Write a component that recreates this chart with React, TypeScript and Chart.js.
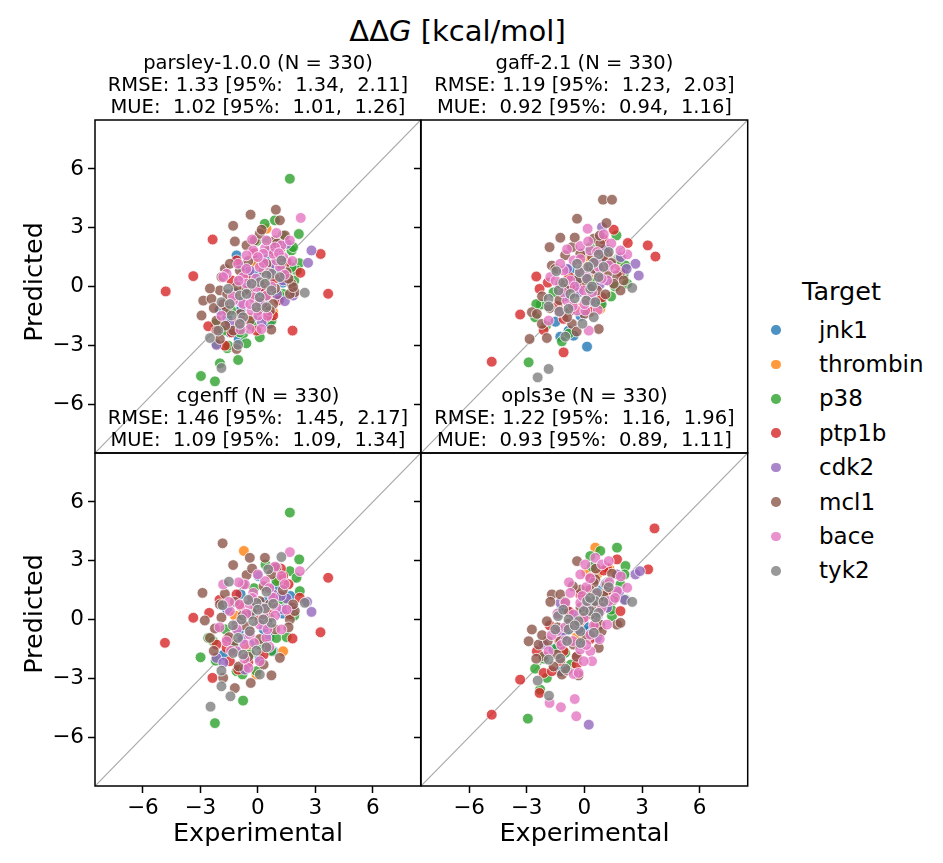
import { useEffect, useRef } from "react"
import { Chart, registerables } from "chart.js"

Chart.register(...registerables)
Chart.defaults.font.family = "DejaVu Sans"

const targets = ["jnk1", "thrombin", "p38", "ptp1b", "cdk2", "mcl1", "bace", "tyk2"]
const targetColors = ["31,119,180", "255,127,14", "44,160,44", "214,39,40", "148,103,189", "140,86,75", "227,119,194", "127,127,127"]
const tickValues = [-6, -3, 0, 3, 6]
const axisMin = -8.5
const axisMax = 8.5

type Pt = [number, number]

// parsley-1.0.0 : [experimental, predicted]
const parsleyJnk1: Pt[] = [[-1.11, 1.59], [-0.42, 0.65], [-1.46, -2.34], [0.71, 2.01], [-0.07, 1.33], [0.3, -0.8], [-0.9, -1.2], [0.6, 0.3], [-0.5, 0.2], [0.2, -0.3], [-1.2, -0.3], [0.9, 0.9], [-0.3, -1.6], [0.5, 1.4], [-1.6, -1.6], [1.3, 0.2], [-0.8, 1.0], [0.0, 0.6], [-2.0, -1.2], [0.6, -1.9], [1.6, 1.2], [-1.0, -2.7]]
const parsleyThrombin: Pt[] = [[0.45, 2.95], [0.8, -1.31], [-0.07, 1.16], [-1.11, -0.55], [0.3, 0.2], [0.9, 1.5], [-0.5, -1.6], [0.6, -0.4]]
const parsleyP38: Pt[] = [[1.67, 5.5], [0.36, 3.2], [0.89, 3.38], [2.14, 2.68], [-0.07, 2.32], [2.16, 1.19], [1.76, 1.84], [-1.6, -3.15], [-1.03, -3.75], [-1.98, -3.92], [-2.97, -4.57], [-2.24, -4.84], [-1.55, -3.02], [-0.77, -2.42], [1.32, -0.38], [1.15, -0.46], [2.02, 0.82], [0.71, -1.74], [-2.16, -2.93], [-0.94, -2.34], [1.84, 2.01], [-1.81, -2.25], [0.1, -2.59], [1.76, 0.99], [1.0, 1.2], [-1.4, -1.2], [0.5, 2.3], [1.9, 0.3], [-2.2, -1.9], [-0.3, -2.0], [1.3, 2.6], [-0.6, -2.9]]
const parsleyPtp1b: Pt[] = [[-2.36, 2.4], [-3.37, 0.53], [-4.81, -0.25], [3.67, -0.37], [3.28, 1.66], [2.22, 0.7], [1.81, -2.25], [-2.59, -2.03], [-2.16, -2.25], [-1.37, -2.34], [-1.11, 1.33], [0.89, 1.76], [1.5, 1.24], [-1.37, 0.31], [-0.07, -2.25], [0.8, -1.48], [-1.72, -3.02], [1.32, 0.48], [0.45, -1.57], [0.2, 0.0], [-0.6, 0.5], [0.9, 0.4], [-1.8, -0.9], [-1.0, -1.8], [0.4, -1.1], [1.1, -0.7], [-0.2, 1.7]]
const parsleyCdk2: Pt[] = [[2.8, 1.84], [2.62, 1.21], [1.41, -0.75], [-2.16, -2.98], [1.32, 0.31], [1.84, -0.46], [-0.42, 0.82], [1.5, 2.18], [-1.46, -1.91], [0.7, 1.1], [-0.9, -0.8], [1.0, -0.4], [0.2, -1.8]]
const parsleyMcl1: Pt[] = [[0.94, 3.92], [-0.38, 3.67], [-1.29, 3.1], [1.15, 3.38], [1.41, 2.61], [0.89, 2.35], [-0.59, 2.1], [-1.72, 0.9], [-1.9, 0.48], [-1.98, -0.2], [-2.85, -0.72], [-2.42, -0.63], [-2.94, -1.48], [-1.98, -2.68], [-1.11, -3.19], [1.76, 0.14], [1.93, -0.29], [1.67, -0.38], [-0.94, 0.82], [0.45, 1.16], [1.5, 0.73], [0.8, -0.89], [-0.42, -0.2], [-1.29, -2.25], [0.63, -1.23], [-0.42, -1.74], [-1.63, -1.23], [-0.16, 2.35], [0.1, 2.69], [1.84, -0.03], [-0.94, 0.31], [-1.46, 1.16], [1.15, 1.84], [-2.16, -1.74], [-0.2, -0.6], [0.3, 0.8], [-0.7, -0.2], [0.9, -0.1], [1.2, 1.1], [-1.1, 0.0], [-0.5, 1.3], [0.6, 1.9], [-1.6, -0.4], [0.0, -1.2], [1.0, 2.2], [-2.3, -1.1], [-1.7, -2.0], [0.4, -0.5], [1.6, 0.4], [-0.9, -1.4], [0.2, 2.9], [-1.2, 2.3], [0.7, -2.2], [-2.5, -0.1]]
const parsleyBace: Pt[] = [[2.24, 3.5], [0.97, 2.73], [1.23, 2.1], [1.67, 2.35], [0.37, 1.93], [-0.24, 1.84], [-0.59, 1.59], [-1.03, 1.16], [-1.63, 0.65], [-1.81, 0.48], [-0.77, 0.48], [-0.59, 0.14], [-0.07, -0.03], [0.45, -0.46], [1.15, 0.99], [0.97, 1.33], [0.8, 1.67], [1.32, 1.5], [0.1, 0.99], [-0.24, -0.55], [-0.77, -0.89], [-0.33, -1.23], [0.02, -1.48], [0.19, -2.17], [-0.42, -2.17], [-0.85, -1.74], [-1.29, -0.72], [0.28, 1.67], [0.45, 2.35], [0.6, 0.7], [-0.1, 0.4], [-0.4, -0.9], [0.3, 1.2], [-1.0, 0.3], [0.7, 0.0], [1.4, 0.6], [-0.6, 0.9], [0.9, 2.0], [-1.3, -0.5], [0.1, -0.8], [-0.3, 2.4], [1.8, 1.3], [-0.9, -2.2], [0.5, -1.5], [-1.9, -1.5], [0.0, 1.5], [1.1, 1.7]]
const parsleyTyk2: Pt[] = [[1.23, 1.33], [0.71, 0.65], [0.45, 0.56], [0.1, 0.22], [0.37, 0.14], [-0.33, 0.14], [-0.94, -0.46], [-1.55, -0.12], [-1.9, -0.8], [-1.46, -0.89], [-1.37, -1.48], [-0.77, -1.57], [-0.07, -1.06], [0.45, -1.06], [0.71, -0.2], [2.45, -0.32], [-2.5, -2.63], [-1.03, -2.98], [-1.9, -4.16], [1.15, 0.48], [-0.59, -0.38], [0.1, -0.55], [-2.07, -2.25], [-0.94, -1.91]]

// gaff-2.1
const gaffJnk1: Pt[] = [[0.14, -3.07], [-0.82, -2.25], [-1.25, -2.56], [-0.56, -2.51], [0.83, -0.89], [-0.3, 0.5], [0.4, -0.4], [-0.4, 0.1], [0.3, 0.6], [-1.0, -0.5], [0.8, 1.3], [-0.2, -1.5], [1.2, 0.3], [-1.5, -1.8], [0.0, 1.7], [-0.7, 0.9], [0.5, -0.8]]
const gaffThrombin: Pt[] = [[-0.12, 1.5], [0.83, -1.14], [0.31, 1.33], [1.7, 1.16], [0.6, 0.5], [-0.4, -1.1], [1.0, 0.9], [0.1, 1.0]]
const gaffP38: Pt[] = [[1.67, 2.61], [2.14, 1.07], [2.23, 0.14], [1.39, -0.51], [-2.26, -0.92], [-2.56, -1.57], [-2.9, -3.87], [-1.17, -2.8], [2.05, 0.65], [1.2, 1.9], [-1.6, -0.3], [0.9, -0.9], [-2.0, -2.0], [1.8, 1.4], [0.3, 2.0], [-0.8, -2.4], [1.6, 0.0], [-2.5, -0.9], [0.5, 0.2]]
const gaffPtp1b: Pt[] = [[1.53, 2.9], [2.26, 2.22], [3.3, 2.1], [3.7, 1.53], [-2.5, 0.51], [-2.33, -0.12], [-3.34, -1.43], [-2.12, -2.22], [-1.08, -3.36], [-4.82, -3.84], [1.88, 0.73], [0.92, -0.55], [-1.08, -1.65], [0.75, 1.84], [-0.73, -0.03], [0.0, 0.0], [-0.8, 0.5], [0.7, 0.7], [-1.4, -1.0], [1.2, 1.6], [0.3, -1.3], [-1.9, 0.2], [1.0, 2.4]]
const gaffCdk2: Pt[] = [[0.92, 3.03], [2.66, 1.16], [2.83, 0.56], [1.36, 1.16], [-0.9, 0.9], [0.66, 0.82], [1.1, 1.9], [1.9, 1.5], [0.3, 1.0], [-0.3, -0.3], [2.2, 0.9], [0.8, 0.1]]
const gaffMcl1: Pt[] = [[0.97, 4.43], [1.44, 4.43], [-0.38, 3.46], [-1.25, 2.49], [-1.81, 2.01], [1.15, 3.24], [0.49, 2.44], [0.83, 2.18], [-1.69, 1.07], [-1.51, 0.9], [1.7, 0.56], [1.88, -0.2], [1.53, 0.14], [-2.73, -1.31], [-2.47, -1.4], [-2.21, -1.91], [-0.64, -1.91], [0.75, -2.17], [-2.85, -2.68], [-1.95, -2.63], [-0.73, -1.23], [-0.21, 1.67], [0.14, 0.14], [-1.25, 0.14], [0.66, -0.2], [-0.64, 2.01], [1.18, 0.65], [2.05, 0.31], [-0.9, -1.57], [-0.3, 0.4], [0.5, 0.9], [-0.9, -0.1], [1.0, 1.5], [0.2, -0.6], [-1.3, -0.7], [0.8, 2.6], [-0.5, 2.5], [1.4, 1.2], [-1.8, -1.1], [0.0, -1.4], [-1.0, 1.6], [0.4, 1.5], [-2.2, -0.5], [1.1, -0.4], [-0.4, -2.3]]
const gaffBace: Pt[] = [[0.17, 2.95], [1.01, 2.66], [-0.21, 2.06], [0.31, 1.84], [-0.56, 1.33], [1.27, 1.07], [2.23, 1.64], [1.88, 1.84], [-1.08, 0.82], [-0.73, 0.31], [-0.21, 0.82], [0.83, 0.9], [-0.38, -1.23], [0.05, -1.23], [-1.86, -1.74], [0.23, -2.25], [0.31, -0.72], [0.75, 0.99], [-1.25, 1.16], [1.18, 0.31], [-0.03, -0.2], [0.66, 1.76], [-0.9, -0.72], [-1.77, 0.48], [0.1, 0.5], [-0.5, 0.0], [0.6, 1.3], [-0.2, 1.4], [0.9, 0.4], [-1.1, -0.3], [0.4, -0.3], [-0.6, -1.0], [1.4, 2.2], [-1.5, 0.3], [0.2, 2.3], [-0.9, 1.9], [1.6, 0.9], [-1.3, -1.3], [0.7, -1.2], [0.0, -0.9]]
const gaffTyk2: Pt[] = [[0.75, 1.64], [1.27, 1.76], [0.49, 1.21], [-0.24, 0.73], [-1.46, 0.78], [-1.34, -0.2], [-1.86, -0.63], [-1.86, -1.02], [-1.3, -1.28], [-0.82, -1.14], [0.1, -0.72], [0.57, -0.8], [0.31, -0.12], [0.75, 0.48], [2.49, -0.07], [0.49, -1.57], [-0.99, -2.56], [-1.86, -4.21], [-2.43, -4.64], [0.14, 0.39], [-0.73, -0.38], [-0.38, 1.16], [0.2, 1.0], [-0.5, -0.6], [1.0, 1.0], [-1.1, 0.2], [0.4, 0.0], [-0.1, -1.9]]

// cgenff
const cgenffJnk1: Pt[] = [[0.02, 2.22], [0.8, -1.62], [-0.59, 0.26], [0.3, -0.5], [-1.0, -1.5], [-0.3, 0.3], [0.4, 0.9], [-1.0, -0.6], [0.9, 1.7], [-0.4, -1.3], [1.3, 0.3], [-1.6, 0.5], [0.1, -2.0], [-0.9, 1.3], [0.6, -0.9], [-1.8, -1.8], [1.7, 1.2]]
const cgenffThrombin: Pt[] = [[-0.73, 3.5], [-0.07, -2.81], [1.32, -1.62], [0.5, 0.3], [-0.6, -1.4], [1.1, 2.0], [-1.2, 0.2]]
const cgenffP38: Pt[] = [[1.67, 5.46], [2.16, 3.07], [1.67, 2.47], [2.02, 2.13], [2.19, 1.45], [-2.99, -1.93], [-0.77, -4.14], [-2.24, -5.29], [-2.59, -0.94], [0.1, -1.28], [0.97, -0.94], [-0.42, -1.79], [-1.11, -2.64], [-0.07, -2.64], [-2.33, -1.11], [1.5, 0.77], [0.97, 1.96], [1.1, 1.0], [-1.7, -0.5], [0.7, -1.6], [-2.2, -2.1], [1.9, 0.2], [0.4, 2.8], [-0.8, -2.8], [1.5, -0.9], [-0.2, 1.6], [-1.3, -1.3]]
const cgenffPtp1b: Pt[] = [[3.67, 2.13], [-3.37, 0.09], [-2.54, 0.34], [-4.85, -1.19], [3.27, -0.65], [1.81, -0.97], [-2.37, -2.98], [2.19, 1.11], [-1.46, -2.13], [-1.03, -2.56], [-1.11, 1.28], [0.8, 2.64], [1.32, 2.22], [-2.16, -1.28], [1.67, 0.26], [-0.42, -0.6], [0.45, 1.62], [-1.63, -1.45], [0.1, 0.0], [-0.9, 0.7], [0.8, 1.1], [-1.6, -1.0], [1.2, 2.6], [0.3, -1.8], [-2.0, 1.0], [1.6, 1.8], [-0.5, -2.2], [0.6, 0.5]]
const cgenffCdk2: Pt[] = [[2.8, 0.39], [2.57, 0.9], [1.5, 1.07], [1.32, 0.51], [-2.16, -1.96], [-0.68, -2.56], [0.8, 1.28], [1.2, 1.2], [0.5, -0.2], [-0.8, -1.0], [1.8, 0.6], [-1.8, -2.2]]
const cgenffMcl1: Pt[] = [[-1.84, 3.89], [-0.42, 3.15], [0.37, 3.15], [-1.29, 2.78], [-0.59, 2.27], [-2.89, 1.36], [-1.72, 1.31], [-2.77, -0.05], [-2.24, -0.46], [-2.5, -0.94], [-1.2, -3.5], [-0.37, -3.24], [0.71, -2.85], [1.67, 0.0], [1.93, 0.43], [0.97, 2.64], [1.84, 0.77], [0.1, 0.94], [-1.98, 0.77], [0.45, -1.28], [-1.29, -1.28], [-0.42, 0.26], [1.15, -1.96], [-1.81, -2.98], [0.63, 0.77], [-0.77, 1.79], [-0.1, 0.6], [0.6, 0.1], [-0.7, -0.3], [0.3, 1.7], [-1.2, 0.9], [0.9, -0.5], [-0.5, -1.9], [1.3, 1.5], [-1.5, -0.9], [0.1, -1.0], [-1.9, 0.1], [0.7, 2.3], [-0.3, 2.6], [1.6, -0.4], [-1.0, -2.4], [0.3, -2.3], [-2.3, -1.6], [-0.8, 0.2]]
const cgenffBace: Pt[] = [[1.67, 3.44], [2.19, 2.47], [1.23, 2.22], [0.37, 1.96], [-0.68, 1.79], [-1.81, 1.79], [-0.24, 1.36], [-0.94, 0.77], [-1.46, 0.43], [0.1, -0.26], [1.23, -0.51], [-0.42, -0.77], [-1.63, -1.11], [-1.11, -1.62], [0.1, -2.13], [-0.49, -2.47], [-0.68, -1.28], [0.45, -0.94], [0.97, 0.6], [0.28, 0.26], [-1.11, -0.26], [0.8, 1.11], [-0.42, 0.77], [0.2, 0.6], [-0.6, 0.3], [0.6, 1.6], [-0.3, 1.1], [0.9, 0.2], [-1.1, -0.5], [0.5, -0.5], [-0.2, -1.2], [1.4, 1.8], [-1.5, 0.9], [0.0, 2.3], [-1.0, 1.9], [1.5, 0.5], [-1.4, -1.6], [0.6, -1.4], [-0.7, -2.0], [-2.0, -0.4], [0.9, 2.7]]
const cgenffTyk2: Pt[] = [[1.23, 3.19], [0.54, 2.56], [-1.51, 1.93], [0.45, 1.42], [-0.07, 0.85], [-1.84, 0.73], [0.37, 0.56], [-0.85, 0.0], [-0.24, -0.09], [0.71, -0.17], [0.28, 0.0], [-0.42, -0.6], [-1.03, -0.94], [-0.07, -1.59], [0.45, -1.42], [-1.29, -1.71], [-1.9, -2.61], [-1.9, -3.41], [-1.43, -3.92], [-2.47, -4.45], [0.1, -2.81], [2.45, 0.85], [-0.77, -1.79], [0.0, 0.5], [-0.5, 1.0], [0.8, 0.8], [-1.3, -0.3]]

// opls3e
const oplsJnk1: Pt[] = [[-0.9, 0.43], [0.66, -0.94], [-1.25, -2.64], [0.14, -0.6], [0.5, 0.9], [-0.5, 0.2], [0.2, 0.8], [-1.0, -0.6], [0.9, 1.5], [-0.3, -1.2], [1.2, 0.6], [-1.6, -1.5], [0.5, 2.3], [-1.2, 0.5], [0.0, -0.3]]
const oplsThrombin: Pt[] = [[0.57, 3.67], [0.1, 2.39], [0.66, 2.3], [-0.21, -0.09], [0.6, 0.6], [-0.4, -0.9], [1.0, 1.2], [0.2, 1.5], [1.3, 2.6]]
const oplsP38: Pt[] = [[1.7, 3.67], [0.83, 3.5], [0.31, 3.24], [2.14, 2.73], [2.09, 2.3], [2.14, 1.02], [1.44, 0.17], [-2.56, -2.51], [-2.3, -3.58], [-2.94, -5.06], [-1.95, -2.98], [1.1, 1.11], [-1.43, -1.45], [1.88, 1.79], [1.2, 1.9], [-1.5, -0.6], [0.7, -0.4], [-2.1, -2.0], [1.7, 1.3], [0.4, 2.7], [-0.7, -2.3], [1.4, 0.5], [-1.0, -1.7], [-0.1, 0.3]]
const oplsPtp1b: Pt[] = [[3.65, 4.65], [3.32, 2.56], [1.7, 3.07], [1.18, 2.64], [-4.82, -4.86], [-3.34, -3.07], [-2.33, -3.75], [-2.12, -2.73], [-2.47, -1.62], [-1.08, -1.62], [-0.38, -1.88], [1.88, 0.43], [-1.69, -2.64], [-1.25, -2.13], [0.31, 2.13], [-0.21, 1.28], [0.0, 0.1], [-0.8, 0.4], [0.8, 0.9], [-1.3, -1.1], [1.2, 1.5], [0.3, -1.0], [-1.8, -0.3], [1.0, 2.5], [-0.4, -2.3], [0.6, -0.3]]
const oplsCdk2: Pt[] = [[2.66, 2.3], [2.89, 2.47], [1.7, 2.3], [-1.25, 0.85], [-2.12, -1.28], [0.23, -5.37], [1.18, 0.6], [1.1, 1.8], [1.8, 1.4], [0.4, 0.9], [-0.3, -0.5], [2.1, 1.0], [0.7, 0.2], [-1.1, -0.9]]
const oplsMcl1: Pt[] = [[-1.69, 1.28], [-1.25, 1.28], [-1.77, 0.9], [-1.95, -0.09], [-2.73, -0.51], [-2.9, -1.11], [-2.38, -1.28], [-2.12, -1.88], [-1.17, -2.81], [-0.3, -2.85], [0.57, 2.05], [0.49, 1.88], [1.44, 2.34], [1.7, -0.26], [1.88, -0.17], [0.75, -1.45], [-0.38, 2.98], [-0.21, 1.53], [-1.25, -1.11], [-0.56, -1.28], [0.31, 0.26], [0.83, -0.26], [-1.43, -1.79], [1.18, 1.79], [-0.2, 0.6], [0.5, 0.7], [-0.8, -0.2], [1.0, 1.2], [0.1, -0.9], [-1.4, -0.4], [0.6, 2.6], [-0.6, 1.7], [1.5, 1.0], [-1.9, -1.1], [-0.4, -1.9], [-1.0, 0.9], [0.3, 1.5], [-2.2, -0.8], [-1.6, -2.4], [0.9, -0.6], [-2.5, -2.0], [-0.9, -2.6]]
const oplsBace: Pt[] = [[0.57, 3.15], [0.05, 2.81], [0.92, 2.81], [1.27, 2.98], [-0.21, 2.3], [2.23, 1.62], [1.7, 1.45], [1.27, 0.94], [0.1, 1.65], [-0.73, 1.36], [-0.99, 0.85], [-0.21, 0.85], [-0.56, 0.26], [-0.03, 0.09], [-0.99, -1.07], [-1.86, -1.62], [-0.21, -1.53], [0.31, -1.62], [0.4, -2.13], [-0.03, -2.13], [-0.56, -2.78], [-0.3, -2.73], [-1.81, -4.26], [-1.22, -4.48], [-0.5, -4.06], [-0.42, -4.94], [1.18, -0.26], [0.83, 0.43], [0.31, -0.77], [-1.43, -0.6], [0.1, 0.6], [-0.4, -0.2], [0.6, 1.3], [-0.1, 1.2], [0.9, 0.6], [-1.0, -0.4], [0.5, -0.3], [-0.6, -1.1], [1.3, 1.9], [-1.4, 0.3], [0.3, 2.1], [-0.8, 1.9], [1.6, 1.1], [-1.2, -1.3], [0.8, -1.0], [0.1, -1.3], [-1.7, -0.8], [1.9, 2.2]]
const oplsTyk2: Pt[] = [[1.27, 1.65], [0.66, 1.36], [0.57, 0.94], [0.31, 0.43], [0.75, 0.34], [-0.03, 0.43], [-0.3, -0.09], [-0.82, 0.0], [-1.37, 0.17], [-0.82, -0.51], [-1.51, -0.51], [-0.21, -0.6], [0.49, -0.68], [2.49, 0.9], [-1.86, -2.05], [-1.25, -1.99], [-0.99, -2.51], [-2.43, -3.12], [-1.84, -3.89], [0.14, 0.94], [0.3, 1.1], [-0.5, -0.3], [1.0, 0.9], [-1.1, 0.5], [0.6, 0.1], [-0.2, -1.2], [-0.9, -1.1]]

const PAD_L = 60
const PAD_R = 6
const PAD_T = 22
const PAD_B = 50

const panels = [
  {
    title: ["parsley-1.0.0 (N = 330)", "RMSE: 1.33 [95%:  1.34,  2.11]", "MUE:  1.02 [95%:  1.01,  1.26]"],
    series: [parsleyJnk1, parsleyThrombin, parsleyP38, parsleyPtp1b, parsleyCdk2, parsleyMcl1, parsleyBace, parsleyTyk2],
    left: 95, top: 120, width: 326, height: 333, bottomRow: false, leftCol: true,
  },
  {
    title: ["gaff-2.1 (N = 330)", "RMSE: 1.19 [95%:  1.23,  2.03]", "MUE:  0.92 [95%:  0.94,  1.16]"],
    series: [gaffJnk1, gaffThrombin, gaffP38, gaffPtp1b, gaffCdk2, gaffMcl1, gaffBace, gaffTyk2],
    left: 421, top: 120, width: 327, height: 333, bottomRow: false, leftCol: false,
  },
  {
    title: ["cgenff (N = 330)", "RMSE: 1.46 [95%:  1.45,  2.17]", "MUE:  1.09 [95%:  1.09,  1.34]"],
    series: [cgenffJnk1, cgenffThrombin, cgenffP38, cgenffPtp1b, cgenffCdk2, cgenffMcl1, cgenffBace, cgenffTyk2],
    left: 95, top: 453, width: 326, height: 333, bottomRow: true, leftCol: true,
  },
  {
    title: ["opls3e (N = 330)", "RMSE: 1.22 [95%:  1.16,  1.96]", "MUE:  0.93 [95%:  0.89,  1.11]"],
    series: [oplsJnk1, oplsThrombin, oplsP38, oplsPtp1b, oplsCdk2, oplsMcl1, oplsBace, oplsTyk2],
    left: 421, top: 453, width: 327, height: 333, bottomRow: true, leftCol: false,
  },
]

const tickText = (v: number) => (v < 0 ? "\u2212" + Math.abs(v) : String(v))

const framePlugin = {
  id: "frame",
  afterDraw(chart: Chart) {
    const { ctx, chartArea: a } = chart
    ctx.save()
    ctx.strokeStyle = "#000"
    ctx.lineWidth = 1.5
    ctx.strokeRect(a.left, a.top, a.right - a.left, a.bottom - a.top)
    ctx.restore()
  },
}

// baseline-positioned text for DejaVu Sans
function textTop(baseline: number, size: number, lh: number) {
  return baseline - lh / 2 - 0.346 * size
}

function Panel({ panel }: { panel: (typeof panels)[number] }) {
  const ref = useRef<HTMLCanvasElement>(null)

  useEffect(() => {
    if (!ref.current) return
    const datasets: any[] = panel.series.map((pts, i) => ({
      label: targets[i],
      data: pts.map(([x, y]) => ({ x, y })),
      backgroundColor: `rgba(${targetColors[i]},0.8)`,
      borderColor: "rgba(255,255,255,0.85)",
      borderWidth: 0.9,
      pointRadius: 5.4,
      order: targets.length - i,
    }))
    datasets.push({
      label: "identity",
      data: [{ x: axisMin, y: axisMin }, { x: axisMax, y: axisMax }],
      showLine: true,
      borderColor: "#a9a9a9",
      borderWidth: 1.2,
      pointRadius: 0,
      order: 20,
    })

    const chart = new Chart(ref.current, {
      type: "scatter",
      data: { datasets },
      options: {
        animation: false,
        responsive: false,
        events: [],
        layout: { padding: { top: PAD_T, right: PAD_R, left: 0, bottom: 0 } },
        plugins: { legend: { display: false }, tooltip: { enabled: false } },
        scales: {
          x: {
            type: "linear",
            min: axisMin,
            max: axisMax,
            afterBuildTicks: (s: any) => { s.ticks = tickValues.map((value) => ({ value })) },
            afterFit: (s: any) => { s.height = PAD_B },
            border: { display: false },
            grid: { display: panel.bottomRow, drawOnChartArea: false, drawTicks: true, tickLength: 7, tickWidth: 1.5, tickColor: "#000" },
            ticks: { display: panel.bottomRow, color: "#000", padding: 3, font: { size: 21.5 }, callback: (v: any) => tickText(Number(v)) },
          },
          y: {
            type: "linear",
            min: axisMin,
            max: axisMax,
            afterBuildTicks: (s: any) => { s.ticks = tickValues.map((value) => ({ value })) },
            afterFit: (s: any) => { s.width = PAD_L },
            border: { display: false },
            grid: { drawOnChartArea: false, drawTicks: true, tickLength: 7, tickWidth: 1.5, tickColor: "#000" },
            ticks: { display: panel.leftCol, color: "#000", padding: 4, font: { size: 21.5 }, callback: (v: any) => tickText(Number(v)) },
          },
        },
      },
      plugins: [framePlugin],
    })

    return () => chart.destroy()
  }, [panel])

  const w = panel.width + PAD_L + PAD_R
  const h = panel.height + PAD_T + PAD_B
  return (
    <canvas
      ref={ref}
      width={w}
      height={h}
      style={{ position: "absolute", left: panel.left - PAD_L, top: panel.top - PAD_T, width: w, height: h }}
    />
  )
}

export default function App() {
  const titleSize = 19.5
  const titleLh = 22.3
  const legendRowGap = 34.4

  return (
    <div style={{ position: "absolute", left: 0, top: 0, width: 943, height: 863, background: "#fff", fontFamily: "DejaVu Sans", color: "#000", overflow: "hidden" }}>
      {panels.map((p, i) => (
        <Panel key={i} panel={p} />
      ))}

      {panels.map((p, i) => (
        <div
          key={"t" + i}
          style={{
            position: "absolute",
            left: p.left + p.width / 2,
            top: textTop(p.top - 50.5, titleSize, titleLh),
            transform: "translateX(-50%)",
            fontSize: titleSize,
            lineHeight: titleLh + "px",
            whiteSpace: "pre",
            textAlign: "center",
          }}
        >
          {p.title.join("\n")}
        </div>
      ))}

      <div style={{ position: "absolute", left: 457.5, top: textTop(41, 29, 34), transform: "translateX(-50%)", fontSize: 29, lineHeight: "34px", whiteSpace: "pre" }}>
        ΔΔ<i>G</i> [kcal/mol]
      </div>

      {[258, 584.5].map((cx, i) => (
        <div key={"xl" + i} style={{ position: "absolute", left: cx, top: textTop(841, 25.5, 30), transform: "translateX(-50%)", fontSize: 25.5, lineHeight: "30px", whiteSpace: "pre" }}>
          Experimental
        </div>
      ))}

      {[282, 613.5].map((cy, i) => (
        <div key={"yl" + i} style={{ position: "absolute", left: 33.2, top: cy, transform: "translate(-50%, -50%) rotate(-90deg)", fontSize: 25.5, lineHeight: "30px", whiteSpace: "pre" }}>
          Predicted
        </div>
      ))}

      <div style={{ position: "absolute", left: 841.5, top: textTop(300, 25.5, 30), transform: "translateX(-50%)", fontSize: 25.5, lineHeight: "30px", whiteSpace: "pre" }}>
        Target
      </div>
      {targets.map((t, i) => {
        const cy = 330 + i * legendRowGap
        return (
          <div key={t}>
            <div style={{ position: "absolute", left: 776 - 4.8, top: cy - 4.8, width: 9.6, height: 9.6, borderRadius: "50%", background: `rgba(${targetColors[i]},0.8)` }} />
            <div style={{ position: "absolute", left: 819, top: textTop(cy + 8, 23, 27), fontSize: 23, lineHeight: "27px", whiteSpace: "pre" }}>{t}</div>
          </div>
        )
      })}
    </div>
  )
}
